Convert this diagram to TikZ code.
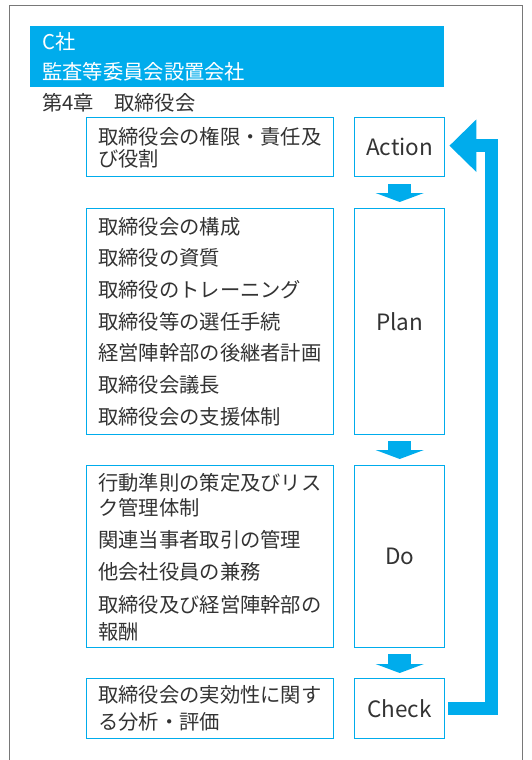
\documentclass[tikz,border=0pt]{standalone}
\usepackage{fontspec}
\setmainfont{Noto Sans CJK JP}
\usetikzlibrary{arrows.meta,calc}
\definecolor{cblue}{RGB}{0,172,236}
\definecolor{txt}{RGB}{51,51,51}
\definecolor{frame}{RGB}{120,120,120}
\tikzset{
  boxl/.style={draw=cblue, line width=1.4pt, anchor=north west, inner sep=0pt},
  jt/.style={anchor=west, inner sep=0pt, text=txt, font=\fontsize{20.3}{24}\selectfont, text height=16.5pt, text depth=2.5pt},
  pdca/.style={inner sep=0pt, text=txt, font=\fontsize{22.5}{24}\selectfont},
  hd/.style={anchor=west, inner sep=0pt, text=white, font=\fontsize{20.3}{24}\selectfont, text height=16.5pt, text depth=2.5pt},
  flow/.style={draw=cblue, line width=23pt, -{Triangle[length=9pt,width=48pt]}},
  loop/.style={draw=cblue, line width=13.5pt, line join=miter, -{Triangle[length=27pt,width=51pt]}}
}
\begin{document}
\begin{tikzpicture}[x=1pt,y=-1pt]
\useasboundingbox (0,0) rectangle (532,760);
\draw[frame, line width=1pt] (9,775) -- (9,6) -- (522,6) -- (522,775);
% header
\node[fill=cblue, anchor=north west, minimum width=414pt, minimum height=61pt, inner sep=0pt] (hdr) at (30,26) {};
\node[hd] (h1) at (42,43) {C社};
\node[hd] (h2) at (42,72) {監査等委員会設置会社};
\node[jt] (ch) at (42,103) {第4章　取締役会};
% left boxes
\node[boxl, minimum width=247pt, minimum height=59pt] (la) at (86,117) {};
\node[boxl, minimum width=247pt, minimum height=226pt] (lp) at (86,208) {};
\node[boxl, minimum width=247pt, minimum height=182pt] (ld) at (86,465) {};
\node[boxl, minimum width=247pt, minimum height=60pt] (lc) at (86,678) {};
% right boxes
\node[boxl, minimum width=90pt, minimum height=59pt] (act) at (354,117) {};
\node[boxl, minimum width=90pt, minimum height=226pt] (pln) at (354,208) {};
\node[boxl, minimum width=90pt, minimum height=182pt] (dox) at (354,465) {};
\node[boxl, minimum width=90pt, minimum height=60pt] (chk) at (354,678) {};
\node[pdca] (tact) at (act.center) {Action};
\node[pdca] (tpln) at (pln.center) {Plan};
\node[pdca] (tdo) at (dox.center) {Do};
\node[pdca] (tchk) at (chk.center) {Check};
% texts
\node[jt] (a1) at (98,137) {取締役会の権限・責任及};
\node[jt] (a2) at (98,159) {び役割};
\node[jt] (p1) at (98,227) {取締役会の構成};
\node[jt] (p2) at (98,258.5) {取締役の資質};
\node[jt] (p3) at (98,290) {取締役のトレーニング};
\node[jt] (p4) at (98,322) {取締役等の選任手続};
\node[jt] (p5) at (98,353.5) {経営陣幹部の後継者計画};
\node[jt] (p6) at (98,385) {取締役会議長};
\node[jt] (p7) at (98,417) {取締役会の支援体制};
\node[jt] (d1) at (98,483) {行動準則の策定及びリス};
\node[jt] (d2) at (98,508) {ク管理体制};
\node[jt] (d3) at (98,540) {関連当事者取引の管理};
\node[jt] (d4) at (98,572) {他会社役員の兼務};
\node[jt] (d5) at (98,605) {取締役及び経営陣幹部の};
\node[jt] (d6) at (98,632) {報酬};
\node[jt] (c1) at (98,695) {取締役会の実効性に関す};
\node[jt] (c2) at (98,722) {る分析・評価};
% flow arrows
\draw[flow] ([yshift=-7pt]act.south) -- ([yshift=6pt]pln.north);
\draw[flow] ([yshift=-6pt]pln.south) -- ([yshift=6pt]dox.north);
\draw[flow] ([yshift=-6pt]dox.south) -- ([yshift=5pt]chk.north);
% loop arrow
\coordinate (cs) at ([xshift=3pt]chk.east);
\coordinate (ae) at ([xshift=4pt,yshift=1.5pt]act.east);
\draw[loop] (cs) -- (491.5,0 |- cs) -- (491.5,0 |- ae) -- (ae);
\end{tikzpicture}
\end{document}
